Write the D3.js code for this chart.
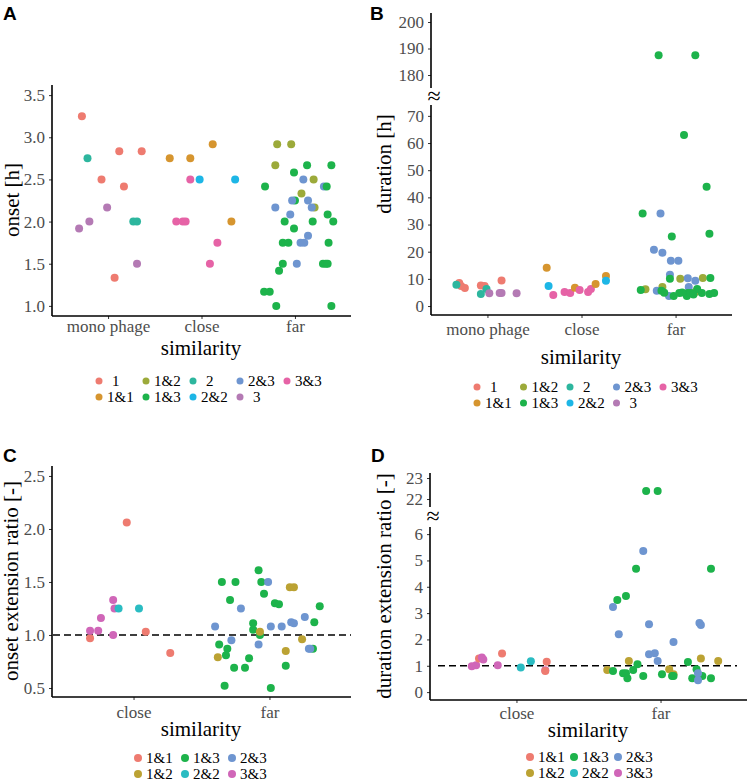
<!DOCTYPE html>
<html><head><meta charset="utf-8">
<script src="https://cdn.jsdelivr.net/npm/d3@7"></script>
<style>body{margin:0;background:#fff}</style>
</head><body>
<svg id="c" width="750" height="781"></svg>
<script>
// ---------------- DATA ----------------
const simABC3 = ["mono phage", "close", "far"];
const simCD2 = ["close", "far"];
const groupsAB = ["1", "1&1", "1&2", "1&3", "2", "2&2", "2&3", "3", "3&3"];
const colorsAB = ["#EE7B70", "#D6952F", "#9CAA3A", "#1DB34B", "#2DB69E", "#1DB6E6", "#6E95D0", "#B47AB4", "#E663A6"];
const groupsCD = ["1&1", "1&2", "1&3", "2&2", "2&3", "3&3"];
const colorsCD = ["#EE7B70", "#BBA233", "#1DB34B", "#2ABCC2", "#6E95D0", "#D066B8"];

const ticksA = [1.0, 1.5, 2.0, 2.5, 3.0, 3.5];
const ticksBLow = [0, 10, 20, 30, 40, 50, 60, 70];
const ticksBHigh = [180, 190, 200];
const ticksC = [0.5, 1.0, 1.5, 2.0, 2.5];
const ticksDLow = [0, 1, 2, 3, 4, 5, 6];
const ticksDHigh = [22, 23];

// [similarity, group, jitter (category units), value]
const onset = [
  ["mono phage","1",-0.28,3.25],["mono phage","2",-0.22,2.75],["mono phage","1",-0.07,2.5],
  ["mono phage","1",0.12,2.833],["mono phage","1",0.17,2.417],["mono phage","1",0.36,2.833],
  ["mono phage","3",-0.01,2.167],["mono phage","3",-0.31,1.917],["mono phage","3",-0.20,2.0],
  ["mono phage","2",0.27,2.0],["mono phage","2",0.31,2.0],["mono phage","3",0.31,1.5],
  ["mono phage","1",0.07,1.333],
  ["close","1&1",-0.34,2.75],["close","1&1",-0.12,2.75],["close","1&1",0.12,2.917],
  ["close","1&1",0.32,2.0],["close","3&3",-0.12,2.5],["close","2&2",-0.02,2.5],
  ["close","2&2",0.36,2.5],["close","3&3",-0.27,2.0],["close","3&3",-0.20,2.0],
  ["close","3&3",-0.17,2.0],["close","3&3",0.17,1.75],["close","3&3",0.09,1.5],
  ["far","1&2",-0.19,2.917],["far","1&2",-0.04,2.917],["far","1&2",-0.21,2.667],
  ["far","1&2",0.20,2.5],["far","1&2",0.07,2.333],["far","1&2",0.21,2.167],
  ["far","1&3",0.13,2.667],["far","1&3",0.39,2.667],["far","1&3",-0.01,2.583],
  ["far","1&3",-0.32,2.417],["far","1&3",0.00,2.25],["far","1&3",0.35,2.083],
  ["far","1&3",-0.11,2.0],["far","1&3",0.19,2.0],["far","1&3",0.41,2.0],
  ["far","1&3",-0.01,1.917],["far","1&3",-0.13,1.75],["far","1&3",-0.07,1.75],
  ["far","1&3",0.36,1.75],["far","1&3",-0.13,1.5],["far","1&3",0.30,1.5],
  ["far","1&3",0.33,1.5],["far","1&3",0.35,1.5],["far","1&3",-0.17,1.417],
  ["far","1&3",-0.33,1.167],["far","1&3",-0.27,1.167],["far","1&3",-0.20,1.0],
  ["far","1&3",0.39,1.0],
  ["far","2&3",0.09,2.5],["far","2&3",0.31,2.417],["far","2&3",-0.03,2.25],
  ["far","2&3",0.14,2.25],["far","2&3",-0.21,2.167],["far","2&3",0.18,2.167],
  ["far","2&3",-0.05,2.083],["far","2&3",0.14,1.833],["far","2&3",0.06,1.75],
  ["far","2&3",0.10,1.75],["far","2&3",0.02,1.5],
  ["far","1&3",0.34,2.417]
];

const duration = [
  ["mono phage","1",-0.30,8.5],["mono phage","1",-0.28,7.4],["mono phage","1",-0.24,6.6],
  ["mono phage","1",-0.07,7.6],["mono phage","1",-0.03,7.4],["mono phage","1",0.15,9.4],
  ["mono phage","2",-0.33,7.8],["mono phage","2",-0.01,6.3],["mono phage","2",-0.07,4.4],
  ["mono phage","3",0.02,4.7],["mono phage","3",0.13,4.8],["mono phage","3",0.15,4.8],
  ["mono phage","3",0.31,4.7],
  ["close","1&1",-0.37,14.1],["close","2&2",-0.35,7.4],["close","3&3",-0.30,4.1],
  ["close","3&3",-0.18,5.2],["close","3&3",-0.12,4.8],["close","1&1",-0.07,6.7],
  ["close","3&3",-0.02,5.9],["close","3&3",0.07,5.2],["close","3&3",0.10,6.3],
  ["close","1&1",0.15,8.1],["close","1&1",0.26,11.1],["close","2&2",0.26,9.3],
  ["far","1&2",0.05,10.0],["far","1&2",0.29,10.3],["far","1&2",-0.32,6.2],
  ["far","1&2",-0.14,7.0],["far","1&2",0.21,5.2],["far","1&2",0.19,4.4],
  ["far","2&3",-0.16,34.1],["far","2&3",-0.23,20.7],["far","2&3",-0.14,19.6],
  ["far","2&3",-0.05,16.7],["far","2&3",0.03,16.7],["far","2&3",-0.06,11.5],
  ["far","2&3",0.13,10.2],["far","2&3",0.21,9.3],["far","2&3",-0.20,5.6],
  ["far","2&3",-0.07,3.7],["far","2&3",0.14,7.0],
  ["far","1&3",-0.18,187.5],["far","1&3",0.21,187.5],["far","1&3",0.09,63.0],
  ["far","1&3",0.33,43.9],["far","1&3",-0.35,34.1],["far","1&3",-0.04,25.6],
  ["far","1&3",0.36,26.6],["far","1&3",-0.06,10.0],["far","1&3",0.37,10.3],
  ["far","1&3",-0.37,5.9],["far","1&3",-0.15,5.6],["far","1&3",-0.12,4.9],
  ["far","1&3",-0.02,3.7],["far","1&3",0.04,4.8],["far","1&3",0.12,3.7],
  ["far","1&3",0.13,4.8],["far","1&3",0.16,4.8],["far","1&3",0.23,6.3],
  ["far","1&3",0.28,4.8],["far","1&3",0.36,4.4],["far","1&3",0.41,4.8],
  ["far","1&3",0.07,5.0],["far","1&3",0.19,4.2]
];

const onsetRatio = [
  ["close","1&1",-0.05,2.06],["close","1&1",-0.32,0.97],["close","3&3",-0.32,1.04],
  ["close","3&3",-0.26,1.04],["close","3&3",-0.24,1.16],["close","3&3",-0.15,1.33],
  ["close","3&3",-0.14,1.25],["close","2&2",-0.11,1.25],["close","3&3",-0.15,1.0],
  ["close","2&2",0.04,1.25],["close","1&1",0.09,1.03],["close","1&1",0.27,0.83],
  ["far","1&3",-0.35,1.5],["far","1&3",-0.25,1.5],["far","1&3",-0.08,1.61],
  ["far","1&3",-0.06,1.5],["far","1&3",-0.04,1.39],["far","1&3",-0.29,1.33],
  ["far","1&3",0.04,1.30],["far","1&3",0.07,1.29],["far","1&3",0.37,1.27],
  ["far","1&3",-0.12,1.11],["far","1&3",-0.12,1.05],["far","1&3",0.33,1.12],
  ["far","1&3",-0.07,1.0],["far","1&3",-0.37,0.91],["far","1&3",-0.31,0.87],
  ["far","1&3",0.32,0.87],["far","1&3",-0.32,0.81],["far","1&3",-0.15,0.78],
  ["far","1&3",-0.26,0.69],["far","1&3",-0.18,0.69],["far","1&3",0.12,0.71],
  ["far","1&3",-0.33,0.52],["far","1&3",0.01,0.50],
  ["far","2&3",-0.01,1.5],["far","2&3",-0.21,1.25],["far","2&3",-0.40,1.08],
  ["far","2&3",0.01,1.08],["far","2&3",0.09,1.08],["far","2&3",0.16,1.12],
  ["far","2&3",0.18,1.11],["far","2&3",0.26,1.17],["far","2&3",-0.28,0.95],
  ["far","2&3",-0.08,0.91],["far","2&3",0.29,0.87],["far","2&3",0.30,0.87],
  ["far","1&2",0.15,1.45],["far","1&2",0.18,1.45],["far","1&2",-0.07,1.03],
  ["far","1&2",0.24,0.96],["far","1&2",-0.38,0.79],["far","1&2",0.12,0.85]
];

const durationRatio = [
  ["close","3&3",-0.31,0.98],["close","3&3",-0.28,1.02],["close","1&1",-0.26,1.28],
  ["close","3&3",-0.24,1.31],["close","3&3",-0.23,1.24],["close","3&3",-0.13,1.02],
  ["close","1&1",-0.10,1.47],["close","2&2",0.03,0.93],["close","2&2",0.10,1.17],
  ["close","1&1",0.21,1.15],["close","3&3",0.20,0.83],["close","1&1",0.20,0.80],
  ["far","1&2",-0.22,1.18],["far","1&2",-0.37,0.84],["far","1&2",0.06,0.87],
  ["far","1&2",0.09,0.68],["far","1&2",0.28,1.28],["far","1&2",0.40,1.18],
  ["far","1&3",-0.10,22.38],["far","1&3",-0.02,22.38],["far","1&3",-0.17,4.68],
  ["far","1&3",0.35,4.68],["far","1&3",-0.30,3.5],["far","1&3",-0.24,3.65],
  ["far","1&3",-0.33,0.80],["far","1&3",-0.26,0.72],["far","1&3",-0.24,0.72],
  ["far","1&3",-0.23,0.53],["far","1&3",-0.19,0.84],["far","1&3",-0.16,1.06],
  ["far","1&3",-0.12,0.61],["far","1&3",0.01,0.68],["far","1&3",0.08,0.61],
  ["far","1&3",0.09,0.61],["far","1&3",0.19,1.14],["far","1&3",0.25,0.87],
  ["far","1&3",0.22,0.53],["far","1&3",0.29,0.61],["far","1&3",0.35,0.53],
  ["far","2&3",-0.12,5.36],["far","2&3",-0.33,3.23],["far","2&3",-0.29,2.2],
  ["far","2&3",-0.08,2.58],["far","2&3",0.09,1.9],["far","2&3",0.27,2.62],
  ["far","2&3",0.28,2.55],["far","2&3",-0.08,1.44],["far","2&3",-0.04,1.48],
  ["far","2&3",-0.02,1.18],["far","2&3",0.26,0.72],["far","2&3",0.26,0.45]
];

// ---------------- DRAWING ----------------
const svg = d3.select("#c");
const SERIF = "Liberation Serif";
const SANS = "Liberation Sans";
const R = 4;

const colAB = d3.scaleOrdinal().domain(groupsAB).range(colorsAB);
const colCD = d3.scaleOrdinal().domain(groupsCD).range(colorsCD);

function yAxis(scale, ticks, x, y0, y1, fmt) {
  const g = svg.append("g").attr("transform", `translate(${x},0)`);
  g.call(d3.axisLeft(scale).tickValues(ticks).tickSize(3).tickPadding(4).tickFormat(fmt));
  g.attr("font-family", SERIF).attr("font-size", 17);
  g.select(".domain").remove();
  g.selectAll(".tick line").attr("stroke", "#333").attr("stroke-width", 1);
  g.selectAll(".tick text").style("font-family", SERIF).style("font-size", "17px").attr("fill", "#4d4d4d");
  g.append("line").attr("x1", 0).attr("x2", 0).attr("y1", y0).attr("y2", y1)
    .attr("stroke", "#000").attr("stroke-width", 1.6);
}
function xAxis(scale, cats, y, x0, x1, labelDy) {
  const g = svg.append("g").attr("transform", `translate(0,${y})`);
  g.call(d3.axisBottom(scale).tickValues(d3.range(cats.length)).tickSize(3).tickFormat(i => cats[i]));
  g.attr("font-family", SERIF).attr("font-size", 17);
  g.select(".domain").remove();
  g.selectAll(".tick line").attr("stroke", "#333").attr("stroke-width", 1);
  g.selectAll(".tick text").attr("dy", null).attr("y", labelDy)
    .style("font-family", SERIF).style("font-size", "17px").attr("fill", "#4d4d4d");
  g.append("line").attr("x1", x0).attr("x2", x1).attr("y1", 0).attr("y2", 0)
    .attr("stroke", "#000").attr("stroke-width", 1.6);
}
function title(txt, x, y, rot) {
  const t = svg.append("text").text(txt).style("font-family", SERIF).style("font-size", "21px")
    .attr("fill", "#000").attr("text-anchor", "middle");
  if (rot) t.attr("transform", `translate(${x},${y}) rotate(-90)`);
  else t.attr("x", x).attr("y", y);
}
function panelLabel(txt, x, y) {
  svg.append("text").text(txt).attr("x", x).attr("y", y).style("font-family", SANS)
    .style("font-weight", "bold").style("font-size", "19px").attr("fill", "#000");
}
function points(data, cats, xs, yfun, col) {
  svg.append("g").selectAll("circle").data(data).join("circle")
    .attr("cx", d => xs(cats.indexOf(d[0]) + d[2]))
    .attr("cy", d => yfun(d[3]))
    .attr("r", R).attr("fill", d => col(d[1]));
}
function legend(groups, col, x0, step, rowY, r) {
  const g = svg.append("g");
  groups.forEach((grp, i) => {
    const c = Math.floor(i / 2), row = i % 2;
    const cx = x0 + c * step, cy = rowY[row];
    g.append("circle").attr("cx", cx).attr("cy", cy).attr("r", r).attr("fill", col(grp));
    g.append("text").text(grp).attr("x", cx + (grp.length === 1 ? 13 : 8)).attr("y", cy + 5)
      .style("font-family", SERIF).style("font-size", "15px").attr("fill", "#000");
  });
}
function breakMark(x, y) {
  svg.append("rect").attr("x", x - 5).attr("y", y - 7).attr("width", 10).attr("height", 14).attr("fill", "#fff");
  svg.append("text").text("≈").attr("x", x + 1).attr("y", y + 7).attr("text-anchor", "middle")
    .style("font-family", SERIF).style("font-size", "24px").attr("fill", "#000");
}

// ---- Panel A ----
{
  const xs = d3.scaleLinear().domain([-0.6, 2.6]).range([52, 351]);
  const ys = d3.scaleLinear().domain([0.88, 3.62]).range([316, 85]);
  yAxis(ys, ticksA, 52, 85, 316, d3.format(".1f"));
  xAxis(xs, simABC3, 316, 52, 351, 16);
  points(onset, simABC3, xs, ys, colAB);
  title("similarity", 201, 355, false);
  title("onset [h]", 19, 200, true);
  panelLabel("A", 3, 20);
  legend(groupsAB, colAB, 99, 47, [381, 397], 3.5);
}
// ---- Panel B ----
{
  const xs = d3.scaleLinear().domain([-0.6, 2.6]).range([431, 732]);
  const yLow = d3.scaleLinear().domain([-3.3, 74]).range([315, 105]);
  const yHigh = d3.scaleLinear().domain([175.1, 203.4]).range([88, 13]);
  yAxis(yHigh, ticksBHigh, 431, 13, 88, d3.format("d"));
  yAxis(yLow, ticksBLow, 431, 105, 315, d3.format("d"));
  xAxis(xs, simABC3, 315, 431, 732, 20);
  points(duration, simABC3, xs, v => v > 100 ? yHigh(v) : yLow(v), colAB);
  breakMark(433, 97);
  title("similarity", 581, 364, false);
  title("duration [h]", 391, 164, true);
  panelLabel("B", 370, 20);
  legend(groupsAB, colAB, 477, 46.5, [387, 403], 3.5);
}
// ---- Panel C ----
{
  const xs = d3.scaleLinear().domain([-0.6, 1.6]).range([52, 351]);
  const ys = d3.scaleLinear().domain([0.415, 2.594]).range([697, 466]);
  yAxis(ys, ticksC, 52, 466, 697, d3.format(".1f"));
  xAxis(xs, simCD2, 697, 52, 351, 21);
  svg.append("line").attr("x1", 53).attr("x2", 351).attr("y1", ys(1)).attr("y2", ys(1))
    .attr("stroke", "#000").attr("stroke-width", 1.3).attr("stroke-dasharray", "7,4");
  points(onsetRatio, simCD2, xs, ys, colCD);
  title("similarity", 201, 736, false);
  title("onset extension ratio [-]", 18, 581, true);
  panelLabel("C", 3, 462);
  legend(groupsCD, colCD, 138, 47, [758, 774], 4);
}
// ---- Panel D ----
{
  const xs = d3.scaleLinear().domain([-0.6, 1.6]).range([430, 747]);
  const yLow = d3.scaleLinear().domain([-0.3, 6.27]).range([700, 527]);
  const yHigh = d3.scaleLinear().domain([21.62, 23.24]).range([507, 473]);
  yAxis(yHigh, ticksDHigh, 430, 473, 507, d3.format("d"));
  yAxis(yLow, ticksDLow, 430, 527, 700, d3.format("d"));
  xAxis(xs, simCD2, 700, 430, 747, 19);
  svg.append("line").attr("x1", 438).attr("x2", 737).attr("y1", yLow(1)).attr("y2", yLow(1))
    .attr("stroke", "#000").attr("stroke-width", 1.3).attr("stroke-dasharray", "7,4");
  points(durationRatio, simCD2, xs, v => v > 10 ? yHigh(v) : yLow(v), colCD);
  breakMark(432, 517);
  title("similarity", 588, 737, false);
  title("duration extension ratio [-]", 391, 586, true);
  panelLabel("D", 371, 462);
  legend(groupsCD, colCD, 530, 44, [757, 773], 4);
}
</script>
</body></html>
